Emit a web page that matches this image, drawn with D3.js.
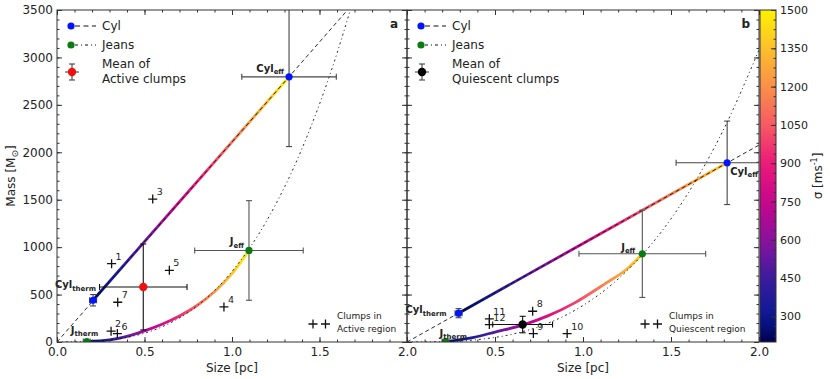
<!DOCTYPE html>
<html>
<head>
<meta charset="utf-8">
<script src="https://cdn.jsdelivr.net/npm/d3@7.9.0/dist/d3.min.js"></script>
<style>
  body { margin: 0; background: #fff; }
  svg text { font-family: "DejaVu Sans", sans-serif; fill: #222; }
</style>
</head>
<body>
<svg id="chart" width="830" height="379"></svg>
<script>
// values
const sizeTicks = [0, 0.5, 1.0, 1.5, 2.0];
const massTicks = [0, 500, 1000, 1500, 2000, 2500, 3000, 3500];
const sigmaTicks = [300, 450, 600, 750, 900, 1050, 1200, 1350, 1500];
const sigmaRange = [200, 1500];

// panel a : active region
const cylLineA = [[0, 0], [1.66, 3500]];
const jeansLineA = [[0, 0], [0.2, 6], [0.4, 48], [0.6, 160], [0.8, 380], [1.0, 743], [1.2, 1284], [1.4, 2039], [1.6, 3043], [1.676, 3500]];
const cylTrackA = [[0.206, 440], [1.326, 2795]];
const jeansTrackA = [[0.17, 4], [0.3, 22], [0.4, 60], [0.5, 118], [0.6, 188], [0.7, 275], [0.8, 385], [0.9, 530], [1.0, 720], [1.097, 965]];
const sigmaA = [200, 1500];
// [size, mass, size err, mass err]
const cylPtsA = [[0.206, 440, 0.02, 60], [1.326, 2795, 0.27, 735]];
const jeansPtsA = [[0.17, 4, 0.02, 0], [1.097, 965, 0.31, 525]];
const meanA = [0.493, 580, 0.25, 453];
const clumpIdsA = ['1', '2', '3', '4', '5', '6', '7'];
const clumpSizeA = [0.312, 0.309, 0.547, 0.954, 0.642, 0.345, 0.347];
const clumpMassA = [826, 114, 1507, 370, 756, 89, 419];

// panel b : quiescent region
const cylLineB = [[0, 0], [2.0, 2076]];
const jeansLineB = [[0, 0], [0.2, 3], [0.4, 25], [0.6, 83], [0.8, 197], [1.0, 385], [1.2, 665], [1.4, 1056], [1.6, 1577], [1.8, 2245], [2.0, 3080]];
const cylTrackB = [[0.293, 304], [1.819, 1889]];
const jeansTrackB = [[0.219, 4], [0.38, 50], [0.5, 105], [0.66, 180], [0.8, 275], [0.95, 410], [1.13, 620], [1.25, 770], [1.337, 930]];
const sigmaB = [200, 1400];
const cylPtsB = [[0.293, 304, 0.02, 48], [1.819, 1889, 0.29, 440]];
const jeansPtsB = [[0.219, 4, 0.02, 0], [1.337, 930, 0.36, 460]];
const meanB = [0.657, 184, 0.17, 87];
const clumpIdsB = ['8', '9', '10', '11', '12'];
const clumpSizeB = [0.714, 0.718, 0.91, 0.468, 0.468];
const clumpMassB = [324, 89, 89, 244, 184];

const svg = d3.select('#chart');
const defs = svg.append('defs');
const yTop = 10, yBottom = 342;
const y = d3.scaleLinear().domain([0, 3500]).range([yBottom, yTop]);

const color = d3.scaleLinear()
  .domain([200, 300, 450, 600, 750, 900, 1050, 1200, 1350, 1500])
  .range(['#00004e', '#0a1a96', '#3b1c9e', '#8a119e', '#c8058c', '#ec1a78', '#f65a64', '#f99048', '#fcbf2c', '#fff200'])
  .interpolate(d3.interpolateRgb);

function gradient(id, x1, y1, x2, y2, s0, s1) {
  const lg = defs.append('linearGradient').attr('id', id)
    .attr('gradientUnits', 'userSpaceOnUse')
    .attr('x1', x1).attr('y1', y1).attr('x2', x2).attr('y2', y2);
  d3.range(0, 1.0001, 0.05).forEach(t => {
    lg.append('stop').attr('offset', t).attr('stop-color', color(s0 + t * (s1 - s0)));
  });
}

function styleAxis(g) {
  g.select('.domain').remove();
  g.selectAll('line').attr('stroke', '#333');
  g.selectAll('text').attr('font-size', 12).attr('font-family', '"DejaVu Sans", sans-serif').attr('fill', '#222');
}

function drawPanel(p) {
  const x = d3.scaleLinear().domain([0, 2]).range(p.xr);
  const g = svg.append('g');
  const clipId = 'clip-' + p.name;
  defs.append('clipPath').attr('id', clipId).append('rect')
    .attr('x', p.xr[0]).attr('y', yTop).attr('width', p.xr[1] - p.xr[0]).attr('height', yBottom - yTop);
  const plot = g.append('g').attr('clip-path', `url(#${clipId})`);
  const line = d3.line().x(d => x(d[0])).y(d => y(d[1]));
  const smooth = d3.line().x(d => x(d[0])).y(d => y(d[1])).curve(d3.curveMonotoneX);

  // coloured tracks (colour runs with sigma along size)
  gradient('g-cyl-' + p.name, x(p.cylTrack[0][0]), 0, x(p.cylTrack[1][0]), 0, p.sigma[0], p.sigma[1]);
  gradient('g-jeans-' + p.name, x(p.jeansTrack[0][0]), 0, x(p.jeansTrack[p.jeansTrack.length - 1][0]), 0, p.sigma[0], p.sigma[1]);
  plot.append('path').attr('d', line(p.cylTrack)).attr('fill', 'none')
    .attr('stroke', `url(#g-cyl-${p.name})`).attr('stroke-width', 2.8);
  plot.append('path').attr('d', smooth(p.jeansTrack)).attr('fill', 'none')
    .attr('stroke', `url(#g-jeans-${p.name})`).attr('stroke-width', 2.8);

  // model lines
  plot.append('path').attr('d', line(p.cylLine)).attr('fill', 'none')
    .attr('stroke', '#111').attr('stroke-width', 0.9).attr('stroke-dasharray', '4,3');
  plot.append('path').attr('d', smooth(p.jeansLine)).attr('fill', 'none')
    .attr('stroke', '#111').attr('stroke-width', 0.9).attr('stroke-dasharray', '2,3,1,3');

  // error bars
  function errbar(d, col) {
    const [s, m, ds, dm] = d;
    const cx = x(s), cy = y(m);
    const eb = plot.append('g').attr('stroke', col).attr('stroke-width', 1.1);
    if (ds > 0) {
      eb.append('line').attr('x1', x(s - ds)).attr('x2', x(s + ds)).attr('y1', cy).attr('y2', cy);
      [s - ds, s + ds].forEach(v => eb.append('line').attr('x1', x(v)).attr('x2', x(v)).attr('y1', cy - 3).attr('y2', cy + 3));
    }
    if (dm > 0) {
      eb.append('line').attr('x1', cx).attr('x2', cx).attr('y1', y(m - dm)).attr('y2', y(m + dm));
      [m - dm, m + dm].forEach(v => eb.append('line').attr('x1', cx - 3).attr('x2', cx + 3).attr('y1', y(v)).attr('y2', y(v)));
    }
  }
  p.cylPts.forEach(d => errbar(d, '#444'));
  p.jeansPts.forEach(d => errbar(d, '#555'));
  errbar(p.mean, '#111');

  p.cylPts.forEach(d => plot.append('circle').attr('cx', x(d[0])).attr('cy', y(d[1])).attr('r', 3.6).attr('fill', '#0015ff'));
  p.jeansPts.forEach(d => plot.append('circle').attr('cx', x(d[0])).attr('cy', y(d[1])).attr('r', 3.6).attr('fill', '#0a7a12'));
  plot.append('circle').attr('cx', x(p.mean[0])).attr('cy', y(p.mean[1])).attr('r', 4.2).attr('fill', p.meanColor);

  // clumps
  p.clumpIds.forEach((id, i) => {
    const cx = x(p.clumpSize[i]), cy = y(p.clumpMass[i]);
    g.append('path').attr('d', `M${cx - 4.5},${cy}H${cx + 4.5}M${cx},${cy - 4.5}V${cy + 4.5}`)
      .attr('stroke', '#111').attr('stroke-width', 1.3);
    g.append('text').attr('x', cx + 4).attr('y', cy - 4).attr('font-size', 9.5).text(id);
  });

  // point labels
  p.labels.forEach(l => {
    const d = l.pt;
    const t = g.append('text').attr('x', x(d[0]) + l.dx).attr('y', y(d[1]) + l.dy)
      .attr('text-anchor', l.anchor).attr('font-weight', 'bold').attr('font-size', 10);
    t.append('tspan').text(l.main);
    t.append('tspan').attr('dy', 2.5).attr('font-size', 7).text(l.sub);
  });

  // axes
  const ax = g.append('g');
  ax.append('g').attr('transform', `translate(0,${yBottom})`)
    .call(d3.axisBottom(x).tickValues(p.yLabels ? sizeTicks : sizeTicks.slice(1)).tickSize(-5).tickPadding(5).tickFormat(d3.format('.1f'))).call(styleAxis);
  ax.append('g').attr('transform', `translate(0,${yBottom})`)
    .call(d3.axisBottom(x).tickValues(d3.range(0, 2.001, 0.1)).tickSize(-2.5).tickFormat('')).call(styleAxis);
  ax.append('g').attr('transform', `translate(0,${yTop})`)
    .call(d3.axisTop(x).tickValues(sizeTicks).tickSize(-5).tickFormat('')).call(styleAxis);
  ax.append('g').attr('transform', `translate(0,${yTop})`)
    .call(d3.axisTop(x).tickValues(d3.range(0, 2.001, 0.1)).tickSize(-2.5).tickFormat('')).call(styleAxis);
  ax.append('g').attr('transform', `translate(${p.xr[0]},0)`)
    .call(d3.axisLeft(y).tickValues(massTicks).tickSize(-5).tickPadding(4).tickFormat(p.yLabels ? d3.format('d') : '')).call(styleAxis);
  ax.append('g').attr('transform', `translate(${p.xr[0]},0)`)
    .call(d3.axisLeft(y).tickValues(d3.range(0, 3501, 100)).tickSize(-2.5).tickFormat('')).call(styleAxis);
  ax.append('g').attr('transform', `translate(${p.xr[1]},0)`)
    .call(d3.axisRight(y).tickValues(massTicks).tickSize(-5).tickFormat('')).call(styleAxis);
  ax.append('g').attr('transform', `translate(${p.xr[1]},0)`)
    .call(d3.axisRight(y).tickValues(d3.range(0, 3501, 100)).tickSize(-2.5).tickFormat('')).call(styleAxis);
  g.append('rect').attr('x', p.xr[0]).attr('y', yTop).attr('width', p.xr[1] - p.xr[0]).attr('height', yBottom - yTop)
    .attr('fill', 'none').attr('stroke', '#333').attr('stroke-width', 1);

  g.append('text').attr('x', (p.xr[0] + p.xr[1]) / 2).attr('y', 372).attr('text-anchor', 'middle')
    .attr('font-size', 12).text('Size [pc]');
  g.append('text').attr('x', p.xr[1] - 9).attr('y', 28).attr('text-anchor', 'end')
    .attr('font-size', 12).attr('font-weight', 'bold').text(p.name);

  // legend
  const lx = p.xr[0] + 14;
  const lg = g.append('g');
  lg.append('circle').attr('cx', lx).attr('cy', 26).attr('r', 3.6).attr('fill', '#0015ff');
  lg.append('line').attr('x1', lx + 4).attr('x2', lx + 25).attr('y1', 26).attr('y2', 26)
    .attr('stroke', '#111').attr('stroke-dasharray', '5,3.5');
  lg.append('circle').attr('cx', lx).attr('cy', 45).attr('r', 3.6).attr('fill', '#0a7a12');
  lg.append('line').attr('x1', lx + 4).attr('x2', lx + 25).attr('y1', 45).attr('y2', 45)
    .attr('stroke', '#111').attr('stroke-dasharray', '3,3,1,3');
  lg.append('line').attr('x1', lx + 1).attr('x2', lx + 1).attr('y1', 64).attr('y2', 80).attr('stroke', '#333');
  lg.append('line').attr('x1', lx - 6).attr('x2', lx + 8).attr('y1', 72).attr('y2', 72).attr('stroke', '#333');
  [64, 80].forEach(v => lg.append('line').attr('x1', lx - 2).attr('x2', lx + 4).attr('y1', v).attr('y2', v).attr('stroke', '#333'));
  lg.append('circle').attr('cx', lx + 1).attr('cy', 72).attr('r', 4.2).attr('fill', p.meanColor);
  lg.append('text').attr('x', lx + 31).attr('y', 30).attr('font-size', 12).text('Cyl');
  lg.append('text').attr('x', lx + 31).attr('y', 49).attr('font-size', 12).text('Jeans');
  lg.append('text').attr('x', lx + 31).attr('y', 68).attr('font-size', 12).text('Mean of');
  lg.append('text').attr('x', lx + 31).attr('y', 83).attr('font-size', 12).text(p.meanText);

  const cx0 = p.xr[1] - p.clumpKeyOffset;
  [cx0, cx0 + 12.5].forEach(v => g.append('path').attr('d', `M${v - 4.5},324H${v + 4.5}M${v},319.5V328.5`)
    .attr('stroke', '#111').attr('stroke-width', 1.3));
  g.append('text').attr('x', cx0 + 24).attr('y', 319).attr('font-size', 9).text('Clumps in');
  g.append('text').attr('x', cx0 + 24).attr('y', 332).attr('font-size', 9).text(p.regionText);
}

drawPanel({
  name: 'a', xr: [57, 407], yLabels: true, clumpKeyOffset: 94,
  cylLine: cylLineA, jeansLine: jeansLineA, cylTrack: cylTrackA, jeansTrack: jeansTrackA, sigma: sigmaA,
  cylPts: cylPtsA, jeansPts: jeansPtsA, mean: meanA, meanColor: '#ee1111',
  clumpIds: clumpIdsA, clumpSize: clumpSizeA, clumpMass: clumpMassA,
  meanText: 'Active clumps', regionText: 'Active region',
  labels: [
    { main: 'Cyl', sub: 'therm', pt: cylPtsA[0], anchor: 'end', dx: 3, dy: -12 },
    { main: 'Cyl', sub: 'eff', pt: cylPtsA[1], anchor: 'end', dx: -5, dy: -5 },
    { main: 'J', sub: 'eff', pt: jeansPtsA[1], anchor: 'end', dx: -5, dy: -5 },
    { main: 'J', sub: 'therm', pt: jeansPtsA[0], anchor: 'start', dx: -16, dy: -8 }
  ]
});

drawPanel({
  name: 'b', xr: [407, 759], yLabels: false, clumpKeyOffset: 114,
  cylLine: cylLineB, jeansLine: jeansLineB, cylTrack: cylTrackB, jeansTrack: jeansTrackB, sigma: sigmaB,
  cylPts: cylPtsB, jeansPts: jeansPtsB, mean: meanB, meanColor: '#000',
  clumpIds: clumpIdsB, clumpSize: clumpSizeB, clumpMass: clumpMassB,
  meanText: 'Quiescent clumps', regionText: 'Quiescent region',
  labels: [
    { main: 'Cyl', sub: 'therm', pt: cylPtsB[0], anchor: 'end', dx: -12, dy: 0 },
    { main: 'Cyl', sub: 'eff', pt: cylPtsB[1], anchor: 'start', dx: 3, dy: 12 },
    { main: 'J', sub: 'eff', pt: jeansPtsB[1], anchor: 'end', dx: -7, dy: -3 },
    { main: 'J', sub: 'therm', pt: jeansPtsB[0], anchor: 'start', dx: -6, dy: -5 }
  ]
});

// y label
svg.append('text').attr('transform', 'translate(15,176) rotate(-90)').attr('text-anchor', 'middle')
  .attr('font-size', 12)
  .call(t => {
    t.append('tspan').text('Mass [M');
    t.append('tspan').attr('dy', 3).attr('font-size', 9).text('\u2299');
    t.append('tspan').attr('dy', -3).text(']');
  });

// colour bar
const cb = svg.append('g');
const sy = d3.scaleLinear().domain(sigmaRange).range([yBottom, yTop]);
gradient('g-bar', 0, sy(sigmaRange[0]), 0, sy(sigmaRange[1]), sigmaRange[0], sigmaRange[1]);
cb.append('rect').attr('x', 760).attr('y', yTop).attr('width', 16).attr('height', yBottom - yTop)
  .attr('fill', 'url(#g-bar)').attr('stroke', '#333');
cb.append('g').attr('transform', 'translate(776,0)')
  .call(d3.axisRight(sy).tickValues(sigmaTicks).tickSize(-5).tickPadding(4).tickFormat(d3.format('d'))).call(styleAxis)
  .selectAll('text').attr('font-size', 11);
cb.append('g').attr('transform', 'translate(776,0)')
  .call(d3.axisRight(sy).tickValues(d3.range(225, 1500.1, 37.5)).tickSize(-2.5).tickFormat('')).call(styleAxis);
svg.append('text').attr('transform', 'translate(822,176) rotate(-90)').attr('text-anchor', 'middle')
  .attr('font-size', 12)
  .call(t => {
    t.append('tspan').text('\u03c3 [ms');
    t.append('tspan').attr('dy', -5).attr('font-size', 8).text('-1');
    t.append('tspan').attr('dy', 5).text(']');
  });
</script>
</body>
</html>
